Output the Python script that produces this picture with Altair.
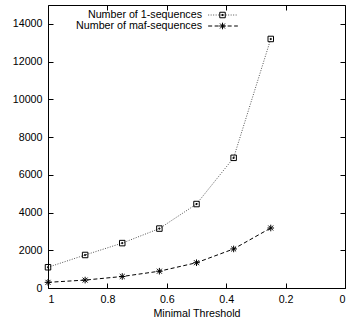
import altair as alt
import pandas as pd

# Threshold values and sequence counts for both series
thresholds = [1, 0.875, 0.75, 0.625, 0.5, 0.375, 0.25]
one_sequences = [1100, 1750, 2380, 3150, 4450, 6900, 13200]
maf_sequences = [300, 420, 610, 890, 1340, 2070, 3180]
series_names = ["Number of 1-sequences", "Number of maf-sequences"]
marker_names = ["square", "star"]
x_ticks = [1, 0.8, 0.6, 0.4, 0.2, 0]
y_ticks = [0, 2000, 4000, 6000, 8000, 10000, 12000, 14000]

rows = []
for name, mk, vals in zip(series_names, marker_names, [one_sequences, maf_sequences]):
    for t, v in zip(thresholds, vals):
        rows.append({"threshold": t, "count": v, "series": name, "marker": mk})
df = pd.DataFrame(rows)

W, H = 297, 283
FONT = "Liberation Sans"
FS = 10.7

x_scale = alt.Scale(domain=[1, 0], nice=False, zero=False)
y_scale = alt.Scale(domain=[0, 15000], nice=False)

# Symbol paths (unit = sqrt(size)/2); size 121 gives r = 5.5 px
SQUARE = "M-0.5,-0.5H0.5V0.5H-0.5Z M-0.1,-0.1H0.1V0.1H-0.1Z"
STAR = "M-0.6,0H0.6M0,-0.6V0.6M-0.45,-0.45L0.45,0.45M-0.45,0.45L0.45,-0.45"
DASH_SYMBOL = "M-2.7,0H2.7"
SYM_SIZE = 121


def tick_axis(orient, offset, values):
    # tick-only axis used to draw inward ticks on each side of the frame
    return alt.Axis(orient=orient, offset=offset, values=values, labels=False,
                    domain=False, ticks=True, tickSize=5, tickColor="black",
                    tickWidth=1, grid=False, title=None)


line_legend = alt.Legend(orient="none", legendX=169, legendY=4, title=None,
                         labelAlign="right", labelOffset={"expr": "-27"}, labelFont=FONT,
                         labelFontSize=FS, labelColor="black", symbolType=DASH_SYMBOL,
                         symbolSize=SYM_SIZE, symbolStrokeWidth=1, rowPadding=0)
color = alt.Color("series:N", scale=alt.Scale(domain=series_names, range=["#555555", "#000000"]),
                  legend=line_legend)
dash = alt.StrokeDash("series:N", scale=alt.Scale(domain=series_names, range=[[1, 1.5], [4, 2.5]]),
                      legend=line_legend)

main_x = alt.Axis(orient="bottom", values=x_ticks, format="~g", ticks=False, tickSize=0,
                  labelPadding=6, domain=False, grid=False, title="Minimal Threshold",
                  titlePadding=5)
main_y = alt.Axis(orient="left", values=y_ticks, ticks=False, tickSize=0, labelPadding=6,
                  domain=False, grid=False, title=None, format="d")

base = alt.Chart(df)

line_a = base.transform_filter(alt.datum.series == series_names[0]).mark_line(strokeWidth=1).encode(
    x=alt.X("threshold:Q", scale=x_scale, axis=main_x),
    y=alt.Y("count:Q", scale=y_scale, axis=main_y),
    color=color, strokeDash=dash,
)

line_b = base.transform_filter(alt.datum.series == series_names[1]).mark_line(strokeWidth=1).encode(
    x=alt.X("threshold:Q", scale=x_scale, axis=tick_axis("top", -H, x_ticks)),
    y=alt.Y("count:Q", scale=y_scale, axis=tick_axis("right", -W, y_ticks)),
    color=color, strokeDash=dash,
)

points = base.mark_point(filled=False, size=SYM_SIZE, stroke="black", strokeWidth=1, opacity=1).encode(
    x=alt.X("threshold:Q", scale=x_scale, axis=tick_axis("bottom", -H, x_ticks)),
    y=alt.Y("count:Q", scale=y_scale, axis=tick_axis("left", -W, y_ticks)),
    shape=alt.Shape("marker:N", scale=alt.Scale(domain=marker_names, range=[SQUARE, STAR]),
                    legend=alt.Legend(orient="none", legendX=168.5, legendY=4, title=None,
                                      labelExpr="''", labelFontSize=FS, symbolSize=SYM_SIZE,
                                      symbolStrokeColor="black", symbolStrokeWidth=1,
                                      rowPadding=0)),
)

chart = alt.layer(line_a, line_b, points).resolve_axis(x="independent", y="independent").properties(
    width=W, height=H, padding={"left": 48, "top": 5, "right": 2, "bottom": 37},
    autosize=alt.AutoSizeParams(type="none"),
).configure_view(stroke="black", strokeWidth=1).configure_axis(
    labelFont=FONT, labelFontSize=FS, labelColor="black", titleFont=FONT,
    titleFontSize=FS, titleFontWeight="normal", titleColor="black",
)

chart.save("out.html", embed_options={"renderer": "svg", "actions": False})
